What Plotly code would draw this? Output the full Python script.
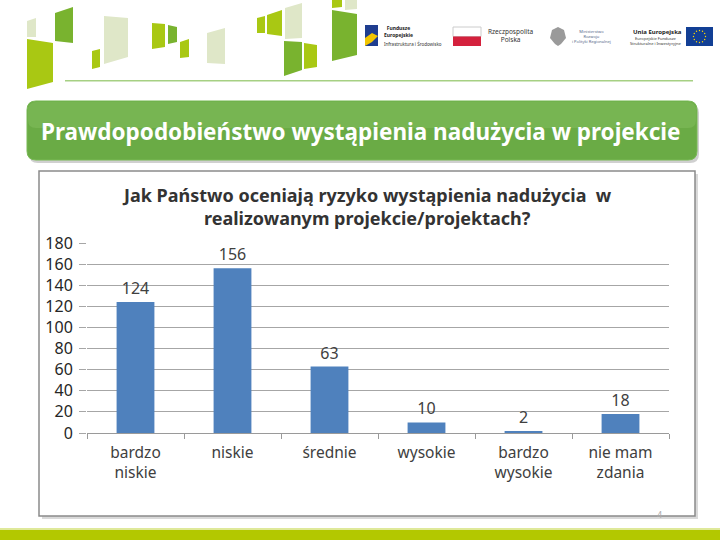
import math
import plotly.graph_objects as go

categories = ["bardzo<br>niskie", "niskie", "średnie", "wysokie", "bardzo<br>wysokie", "nie mam<br>zdania"]
values = [124, 156, 63, 10, 2, 18]
y_ticks = [0, 20, 40, 60, 80, 100, 120, 140, 160, 180]

W, H = 720, 540
L, R, T, B = 87, 669, 243, 433  # plot area in pixels


def fx(px):
    return (px - L) / (R - L)


def fy(py):
    return (B - py) / (B - T)


def poly(pts):
    return "M " + " L ".join(f"{fx(x):.5f},{fy(y):.5f}" for x, y in pts) + " Z"


def rrect(x0, y0, x1, y1, r):
    s = f"M {fx(x0 + r):.5f},{fy(y0):.5f} L {fx(x1 - r):.5f},{fy(y0):.5f} "
    s += f"Q {fx(x1):.5f},{fy(y0):.5f} {fx(x1):.5f},{fy(y0 + r):.5f} "
    s += f"L {fx(x1):.5f},{fy(y1 - r):.5f} Q {fx(x1):.5f},{fy(y1):.5f} {fx(x1 - r):.5f},{fy(y1):.5f} "
    s += f"L {fx(x0 + r):.5f},{fy(y1):.5f} Q {fx(x0):.5f},{fy(y1):.5f} {fx(x0):.5f},{fy(y1 - r):.5f} "
    s += f"L {fx(x0):.5f},{fy(y0 + r):.5f} Q {fx(x0):.5f},{fy(y0):.5f} {fx(x0 + r):.5f},{fy(y0):.5f} Z"
    return s


def rect(x0, y0, x1, y1, fill, line=None, lw=0):
    return dict(type="rect", xref="paper", yref="paper", x0=fx(x0), x1=fx(x1), y0=fy(y1), y1=fy(y0),
                fillcolor=fill, line=dict(color=line or fill, width=lw), layer="below")


LIME = "#a9c813"
DGREEN = "#79b32f"
PALE = "#dfe7c8"

deco = [
    ([(27, 21), (36, 18), (36, 37), (27, 37)], PALE),
    ([(55, 13), (73, 7), (73, 43), (55, 41)], DGREEN),
    ([(27, 39), (53, 43), (53, 82), (27, 89)], LIME),
    ([(92, 51), (100, 49), (100, 67), (92, 69)], LIME),
    ([(104, 16), (128, 18), (128, 57), (104, 64)], PALE),
    ([(152, 23), (165, 24), (165, 47), (152, 49)], LIME),
    ([(168, 25), (177, 27), (177, 42), (168, 44)], DGREEN),
    ([(180, 42), (189, 39), (189, 57), (180, 58)], LIME),
    ([(207, 33), (225, 28), (225, 64), (207, 63)], PALE),
    ([(257, 18), (265, 16), (265, 33), (257, 33)], LIME),
    ([(267, 15), (282, 10), (282, 36), (267, 34)], LIME),
    ([(285, 8), (302, 3), (302, 38), (285, 39)], PALE),
    ([(284, 41), (302, 42), (302, 70), (284, 76)], DGREEN),
    ([(304, 43), (317, 45), (317, 67), (304, 69)], LIME),
    ([(332, 0), (342, 0), (342, 7), (332, 8)], LIME),
    ([(345, 0), (357, 0), (357, 9), (345, 10)], PALE),
    ([(332, 10), (357, 14), (357, 55), (332, 61)], DGREEN),
]

shapes = []
for pts, col in deco:
    shapes.append(dict(type="path", xref="paper", yref="paper", path=poly(pts), fillcolor=col,
                       line=dict(width=0), layer="below"))

# header green line
shapes.append(rect(65, 80, 693, 81.5, "#a6d083"))

# logos
shapes.append(rect(365, 25, 378, 46, "#1f3d8f"))
shapes.append(dict(type="path", xref="paper", yref="paper", path=poly([(365, 38), (372, 33), (378, 36), (372, 42), (365, 46)]),
                   fillcolor="#f2c500", line=dict(width=0), layer="below"))
shapes.append(rect(453, 27, 481, 36.5, "#ffffff", "#cccccc", 1))
shapes.append(rect(453, 36.5, 481, 46, "#d4213d"))
shapes.append(dict(type="path", xref="paper", yref="paper",
                   path=poly([(552, 30), (558, 27), (564, 30), (566, 38), (561, 44), (558, 46), (555, 44), (550, 38)]),
                   fillcolor="#9a9a9a", line=dict(width=0), layer="below"))
shapes.append(rect(686, 27, 713, 46, "#123f95"))
for k in range(12):
    a = 2 * math.pi * k / 12
    cx, cy = 699.5 + 6 * math.cos(a), 36.5 + 6 * math.sin(a)
    shapes.append(dict(type="circle", xref="paper", yref="paper", x0=fx(cx - 0.7), x1=fx(cx + 0.7),
                       y0=fy(cy + 0.7), y1=fy(cy - 0.7), fillcolor="#ffd800", line=dict(width=0), layer="below"))

# banner with shadow
shapes.append(dict(type="path", xref="paper", yref="paper", path=rrect(29, 104, 699, 163, 9),
                   fillcolor="#d0d0d0", line=dict(width=0), layer="below"))
shapes.append(dict(type="path", xref="paper", yref="paper", path=rrect(27, 101, 697, 160, 9),
                   fillcolor="#6aab45", line=dict(color="#78b955", width=1), layer="below"))
shapes.append(dict(type="path", xref="paper", yref="paper", path=rrect(28, 102, 696, 128, 8),
                   fillcolor="#77b552", line=dict(width=0), layer="below"))

# chart frame with shadow
shapes.append(rect(42, 174, 698, 519, "#d9d9d9"))
shapes.append(rect(39, 171, 695, 516, "#ffffff", "#8a8a8a", 1.5))

# bottom bar
shapes.append(rect(0, 528, 720, 530, "#dfe99a"))
shapes.append(rect(0, 530, 720, 540, "#b3c800"))

annotations = []


def txt(x, y, s, size, color="#404040", anchor="center", bold=False, family="Noto Sans", yanchor="middle"):
    if bold:
        s = f"<b>{s}</b>"
    annotations.append(dict(xref="paper", yref="paper", x=fx(x), y=fy(y), text=s, showarrow=False,
                            xanchor=anchor, yanchor=yanchor, borderpad=0,
                            font=dict(size=size, color=color, family=family)))


txt(383, 31, "Fundusze<br>Europejskie", 5, "#222222", "left", True)
txt(383, 43.5, "Infrastruktura i Środowisko", 4.5, "#333333", "left")
txt(487, 35.5, "Rzeczpospolita<br>Polska", 6.5, "#333333", "left")
txt(571, 36.5, "Ministerstwo<br>Rozwoju<br>i Polityki Regionalnej", 4, "#556688", "left")
txt(683, 32, "Unia Europejska", 6, "#222222", "right", True)
txt(683, 41, "Europejskie Fundusze<br>Strukturalne i Inwestycyjne", 4, "#333333", "right")

txt(361, 131, "Prawdopodobieństwo wystąpienia nadużycia w projekcie", 22.5, "#ffffff", bold=True)
txt(367, 195, "Jak Państwo oceniają ryzyko wystąpienia nadużycia  w", 18, "#333333", bold=True)
txt(367, 218, "realizowanym projekcie/projektach?", 18, "#333333", bold=True)
txt(659, 514, "4", 9, "#aaaaaa")

fig = go.Figure()
fig.add_trace(go.Bar(
    x=categories, y=values, text=[str(v) for v in values], textposition="outside",
    textfont=dict(size=16, color="#404040", family="Noto Sans"),
    marker=dict(color="#4f81bd", line=dict(width=0)), width=0.39, cliponaxis=False,
))
fig.update_layout(
    width=W, height=H, margin=dict(l=L, r=W - R, t=T, b=H - B, pad=0),
    paper_bgcolor="#ffffff", plot_bgcolor="rgba(0,0,0,0)",
    showlegend=False, shapes=shapes, annotations=annotations,
    font=dict(family="Noto Sans", color="#404040"),
)
fig.update_xaxes(showgrid=False, showline=True, linecolor="#9a9a9a", linewidth=1,
                 ticks="outside", tickson="boundaries", ticklen=5, tickcolor="#9a9a9a",
                 ticklabelstandoff=5,
                 tickfont=dict(size=15.5, color="#404040"), fixedrange=True)
fig.update_yaxes(range=[0, 180], tickvals=y_ticks, showgrid=True, gridcolor="#a6a6a6", gridwidth=1,
                 ticks="outside", ticklen=7, tickcolor="#a6a6a6", zeroline=False, showline=False,
                 ticklabelstandoff=3,
                 tickfont=dict(size=16, color="#262626"), fixedrange=True)
fig.write_html("out.html", config={"displayModeBar": False},
               post_script="document.body.style.margin='0';document.body.style.overflow='hidden';")
